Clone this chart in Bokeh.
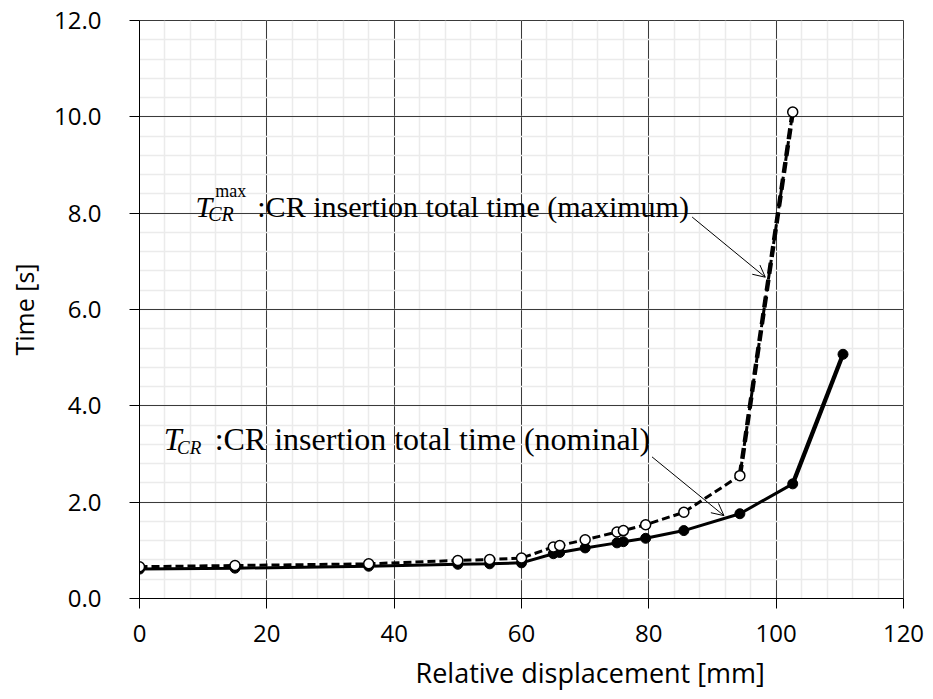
from bokeh.plotting import figure
from bokeh.models import (Range1d, SingleIntervalTicker, NumeralTickFormatter,
                          Label, Arrow, OpenHead, Title)
from bokeh.embed import file_html
from bokeh.resources import INLINE

# ---- data ----
disp_max = [0, 15, 36, 50, 55, 60, 65, 66, 70, 75, 76, 79.5, 85.5, 94.3, 102.6]
time_max = [0.66, 0.685, 0.72, 0.79, 0.81, 0.84, 1.07, 1.10, 1.22, 1.38, 1.41, 1.53, 1.79, 2.55, 10.1]
disp_nom = [0, 15, 36, 50, 55, 60, 65, 66, 70, 75, 76, 79.5, 85.5, 94.3, 102.6, 110.5]
time_nom = [0.61, 0.63, 0.67, 0.71, 0.72, 0.74, 0.93, 0.955, 1.05, 1.155, 1.18, 1.25, 1.41, 1.76, 2.38, 5.07]

x_title = "Relative displacement [mm]"
y_title = "Time [s]"
label_max = ":CR insertion total time (maximum)"
label_nom = ":CR insertion total time (nominal)"

SERIF = "Liberation Serif"
SANS = "Open Sans"

p = figure(width=933, height=699, output_backend="svg", toolbar_location=None,
           x_range=Range1d(0, 120), y_range=Range1d(0, 12),
           min_border_left=139, min_border_right=30, min_border_top=20,
           min_border_bottom=101)
p.background_fill_color = "white"
p.border_fill_color = "white"
p.outline_line_color = "#3a3a3a"

p.xaxis.ticker = SingleIntervalTicker(interval=20, num_minor_ticks=5)
p.yaxis.ticker = SingleIntervalTicker(interval=2, num_minor_ticks=5)
p.yaxis.formatter = NumeralTickFormatter(format="0.0")

for ax in (p.xaxis[0], p.yaxis[0]):
    ax.axis_line_color = "black"
    ax.axis_line_width = 1
    ax.major_tick_line_color = "black"
    ax.major_tick_out = 10
    ax.major_tick_in = 0
    ax.minor_tick_out = 0
    ax.minor_tick_in = 0
    ax.major_label_text_font = SANS
    ax.major_label_text_font_size = "24px"
    ax.major_label_text_color = "black"

p.xaxis.major_label_standoff = 16
p.yaxis.major_label_standoff = 28
p.yaxis.axis_label = y_title
p.yaxis.axis_label_text_font = SANS
p.yaxis.axis_label_text_font_size = "25px"
p.yaxis.axis_label_text_font_style = "normal"
p.yaxis.axis_label_text_color = "black"
p.yaxis.axis_label_standoff = 10

for g in (p.xgrid[0], p.ygrid[0]):
    g.grid_line_color = "#3a3a3a"
    g.grid_line_width = 1
    g.minor_grid_line_color = "#ebebeb"
    g.minor_grid_line_width = 1.5

# x-axis title, placed below the axis as in the reference
p.add_layout(Title(text=x_title, align="left", offset=276, standoff=14,
                   text_font=SANS, text_font_size="27px", text_line_height=0.7,
                   text_font_style="normal", text_color="black"), "below")

# ---- series ----
p.line(disp_max, time_max, line_color="black", line_width=3, line_dash="8 4")
p.line(disp_max[-2:], time_max[-2:], line_color="black", line_width=4.5, line_dash="11 6")
p.line(disp_nom, time_nom, line_color="black", line_width=3)
p.line(disp_nom[-2:], time_nom[-2:], line_color="black", line_width=4.3)

p.scatter(disp_nom, time_nom, marker="circle", size=10, fill_color="black",
          line_color="black", line_width=1)
p.scatter(disp_max, time_max, marker="circle", size=10, fill_color="white",
          line_color="black", line_width=1.5)

# ---- annotations ----
# maximum
p.add_layout(Label(x=8.8, y=8.14, text="T", text_font=SERIF, text_font_style="italic",
                   text_font_size="30px", text_baseline="alphabetic", text_color="black"))
p.add_layout(Label(x=11.9, y=8.45, text="max", text_font=SERIF,
                   text_font_size="18px", text_baseline="alphabetic", text_color="black"))
p.add_layout(Label(x=10.8, y=7.99, text="CR", text_font=SERIF, text_font_style="italic",
                   text_font_size="20px", text_baseline="alphabetic", text_color="black"))
p.add_layout(Label(x=18.5, y=8.14, text=label_max, text_font=SERIF,
                   text_font_size="30px", text_baseline="alphabetic", text_color="black"))
p.add_layout(Arrow(end=OpenHead(size=12, line_width=1, line_color="black"),
                   x_start=86.8, y_start=7.92, x_end=98.3, y_end=6.67,
                   line_width=1, line_color="black"))
# nominal
p.add_layout(Label(x=3.8, y=3.31, text="T", text_font=SERIF, text_font_style="italic",
                   text_font_size="32px", text_baseline="alphabetic", text_color="black"))
p.add_layout(Label(x=5.9, y=3.14, text="CR", text_font=SERIF, text_font_style="italic",
                   text_font_size="19px", text_baseline="alphabetic", text_color="black"))
p.add_layout(Label(x=11.8, y=3.31, text=label_nom, text_font=SERIF,
                   text_font_size="32px", text_baseline="alphabetic", text_color="black"))
p.add_layout(Arrow(end=OpenHead(size=12, line_width=1, line_color="black"),
                   x_start=80.5, y_start=2.94, x_end=91.8, y_end=1.72,
                   line_width=1, line_color="black"))

open("out.html", "w").write(file_html(p, INLINE))
